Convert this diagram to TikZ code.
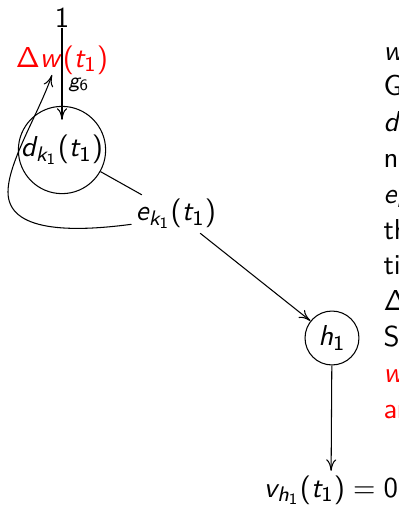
\documentclass[tikz,border=0pt]{standalone}
\usetikzlibrary{calc,arrows.meta}
\DeclareSymbolFont{operators}{OT1}{cmss}{m}{n}
\DeclareSymbolFont{sfletters}{OT1}{cmss}{m}{sl}
\DeclareMathSymbol{d}{\mathalpha}{sfletters}{`d}
\DeclareMathSymbol{e}{\mathalpha}{sfletters}{`e}
\DeclareMathSymbol{g}{\mathalpha}{sfletters}{`g}
\DeclareMathSymbol{h}{\mathalpha}{sfletters}{`h}
\DeclareMathSymbol{k}{\mathalpha}{sfletters}{`k}
\DeclareMathSymbol{t}{\mathalpha}{sfletters}{`t}
\DeclareMathSymbol{v}{\mathalpha}{sfletters}{`v}
\DeclareMathSymbol{w}{\mathalpha}{sfletters}{`w}
\tikzset{
  lbl/.style={font=\fontsize{10.95}{13.6}\selectfont\sffamily, inner sep=1.5pt},
  circ/.style={lbl, draw, circle, inner sep=0pt},
  rline/.style={lbl, inner sep=0pt, anchor=base west},
  conn/.style={line width=0.4pt, >={To[length=4.4pt,width=3.8pt]}}
}
\begin{document}
\begin{tikzpicture}[x=0.38pt,y=-0.38pt]
\useasboundingbox (0,0) rectangle (399,505);
\clip (0,0) rectangle (399,505);
% diagram nodes
\node[lbl, inner sep=0pt, anchor=base] (one) at (62,27) {$1$};
\node[lbl, text=red] (dw) at (62,60) {$\Delta w(t_1)$};
\node[lbl] (gsix) at (79,85) {$\scriptstyle g_6$};
\node[circ, minimum size=31.9pt] (d) at (62,150) {$d_{k_1}(t_1)$};
\node[lbl] (e) at (176,214) {$e_{k_1}(t_1)$};
\node[circ, minimum size=20.5pt] (h) at (332,338) {$h_1$};
\node[lbl, anchor=base] (v) at (331,497) {$v_{h_1}(t_1)=0$};
\coordinate (loopL) at (8,192);
\coordinate (dwtip) at ($(dw.south)+(-10,-4)$);
% connectors
\draw[conn,->] (one.south) -- ($(d.north)+(0,14)$);
\draw[conn] (d) -- (e);
\draw[conn,->] (e) -- (h);
\draw[conn,->] (h) -- (v);
\draw[conn,->] (e.193) .. controls +(-60,8) and +(0,40) .. (loopL)
      .. controls +(0,-30) and +(-13,38) .. (dwtip);
% right-hand text (clipped at the edge)
\node[rline] (r0) at (383,60) {$w$};
\node[rline] (r1) at (383,95.8) {G};
\node[rline] (r2) at (383,131.6) {$d_{k_1}$};
\node[rline] (r3) at (383,167.4) {nu};
\node[rline] (r4) at (383,203.2) {$e_{k_1}$};
\node[rline] (r5) at (383,239) {th};
\node[rline] (r6) at (383,274.8) {ti};
\node[rline] (r7) at (383,310.6) {$\Delta$};
\node[rline] (r8) at (383,346.4) {S};
\node[rline, text=red] (r9) at (383,382.2) {$w$};
\node[rline, text=red] (r10) at (383,418) {ar};
\end{tikzpicture}
\end{document}
